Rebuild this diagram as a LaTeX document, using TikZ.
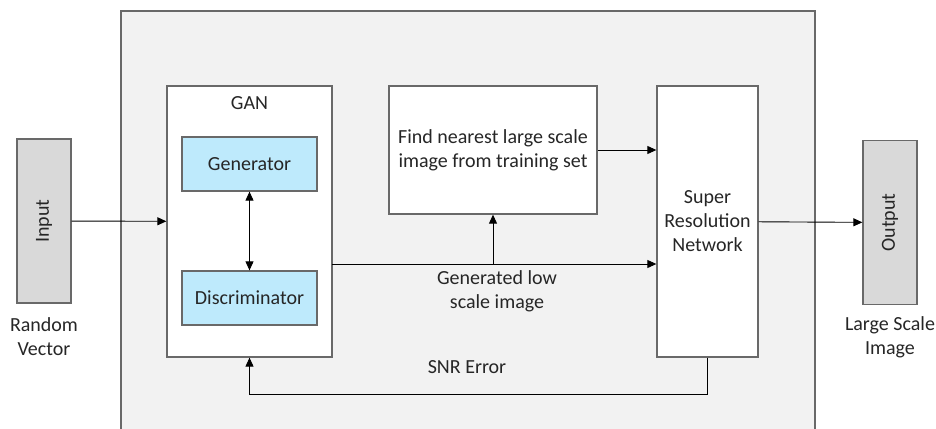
\documentclass[tikz,border=0pt]{standalone}
\usepackage{fontspec}
\setmainfont{Carlito}
\usetikzlibrary{arrows.meta,positioning}
\definecolor{panelgray}{RGB}{242,242,242}
\definecolor{iogray}{RGB}{217,217,217}
\definecolor{ganblue}{RGB}{190,234,252}
\definecolor{edgegray}{RGB}{105,105,105}

\begin{document}
\begin{tikzpicture}[x=1pt, y=-1pt,
  box/.style={draw=edgegray, line width=1.3pt, fill=white, inner sep=0pt},
  iobox/.style={box, fill=iogray, minimum width=54pt, minimum height=164pt},
  subbox/.style={box, fill=ganblue, minimum width=135pt, minimum height=54pt},
  lbl/.style={align=center, text=black!85, font=\fontsize{20}{24}\selectfont},
  arr/.style={-{Triangle[length=9pt, width=8pt]}, line width=0.9pt}]
  \useasboundingbox (0,0) rectangle (936,428);

  % Outer panel (runs past the bottom edge)
  \begin{scope}
    \clip (0,0) rectangle (936,428);
    \draw[draw=edgegray, line width=1.3pt, fill=panelgray] (121,11) rectangle (815,445);
  \end{scope}

  % Input / output
  \node[iobox] (input) at (44,221) {};
  \node[lbl, rotate=90] (inputtxt) at (input) {Input};
  \node[lbl] (rvec) at (44,337) {Random\\Vector};
  \node[iobox] (output) at (890,222.5) {};
  \node[lbl, rotate=90] (outputtxt) at (output) {Output};
  \node[lbl] (large) at (890,337) {Large Scale\\Image};

  % GAN block
  \node[box, minimum width=165pt, minimum height=271pt] (gan) at (249.5,221.5) {};
  \node[lbl] (gantxt) at (249.5,103) {GAN};
  \node[subbox, lbl] (gen) at (249.5,164) {Generator};
  \node[subbox, lbl] (disc) at (249.5,298) {Discriminator};

  % Lookup and super resolution
  \node[box, lbl, minimum width=208pt, minimum height=128pt] (find) at (493,150)
    {Find nearest large scale\\image from training set};
  \node[box, lbl, minimum width=101pt, minimum height=271pt] (srn) at (707.5,221.5)
    {Super\\Resolution\\Network};

  % Connectors
  \draw[arr] (input) -- (gan);
  \draw[{Triangle[length=9pt, width=8pt]}-{Triangle[length=9pt, width=8pt]}, line width=0.9pt] (gen) -- (disc);
  \draw[arr] (find.east) -- (find.east -| srn.west);
  \coordinate (genout) at (332,264);
  \coordinate (branch) at (493,264);
  \draw[arr] (genout) -- (genout -| srn.west);
  \draw[arr] (branch) -- (find.south);
  \node[lbl] (genlbl) at (497,291) {Generated low\\scale image};
  \draw[arr] (srn) -- (output);

  % SNR feedback
  \draw[arr] (srn.south) -- ++(0,37) -| (gan.south);
  \node[lbl] (snr) at (467,367) {SNR Error};
\end{tikzpicture}
\end{document}
